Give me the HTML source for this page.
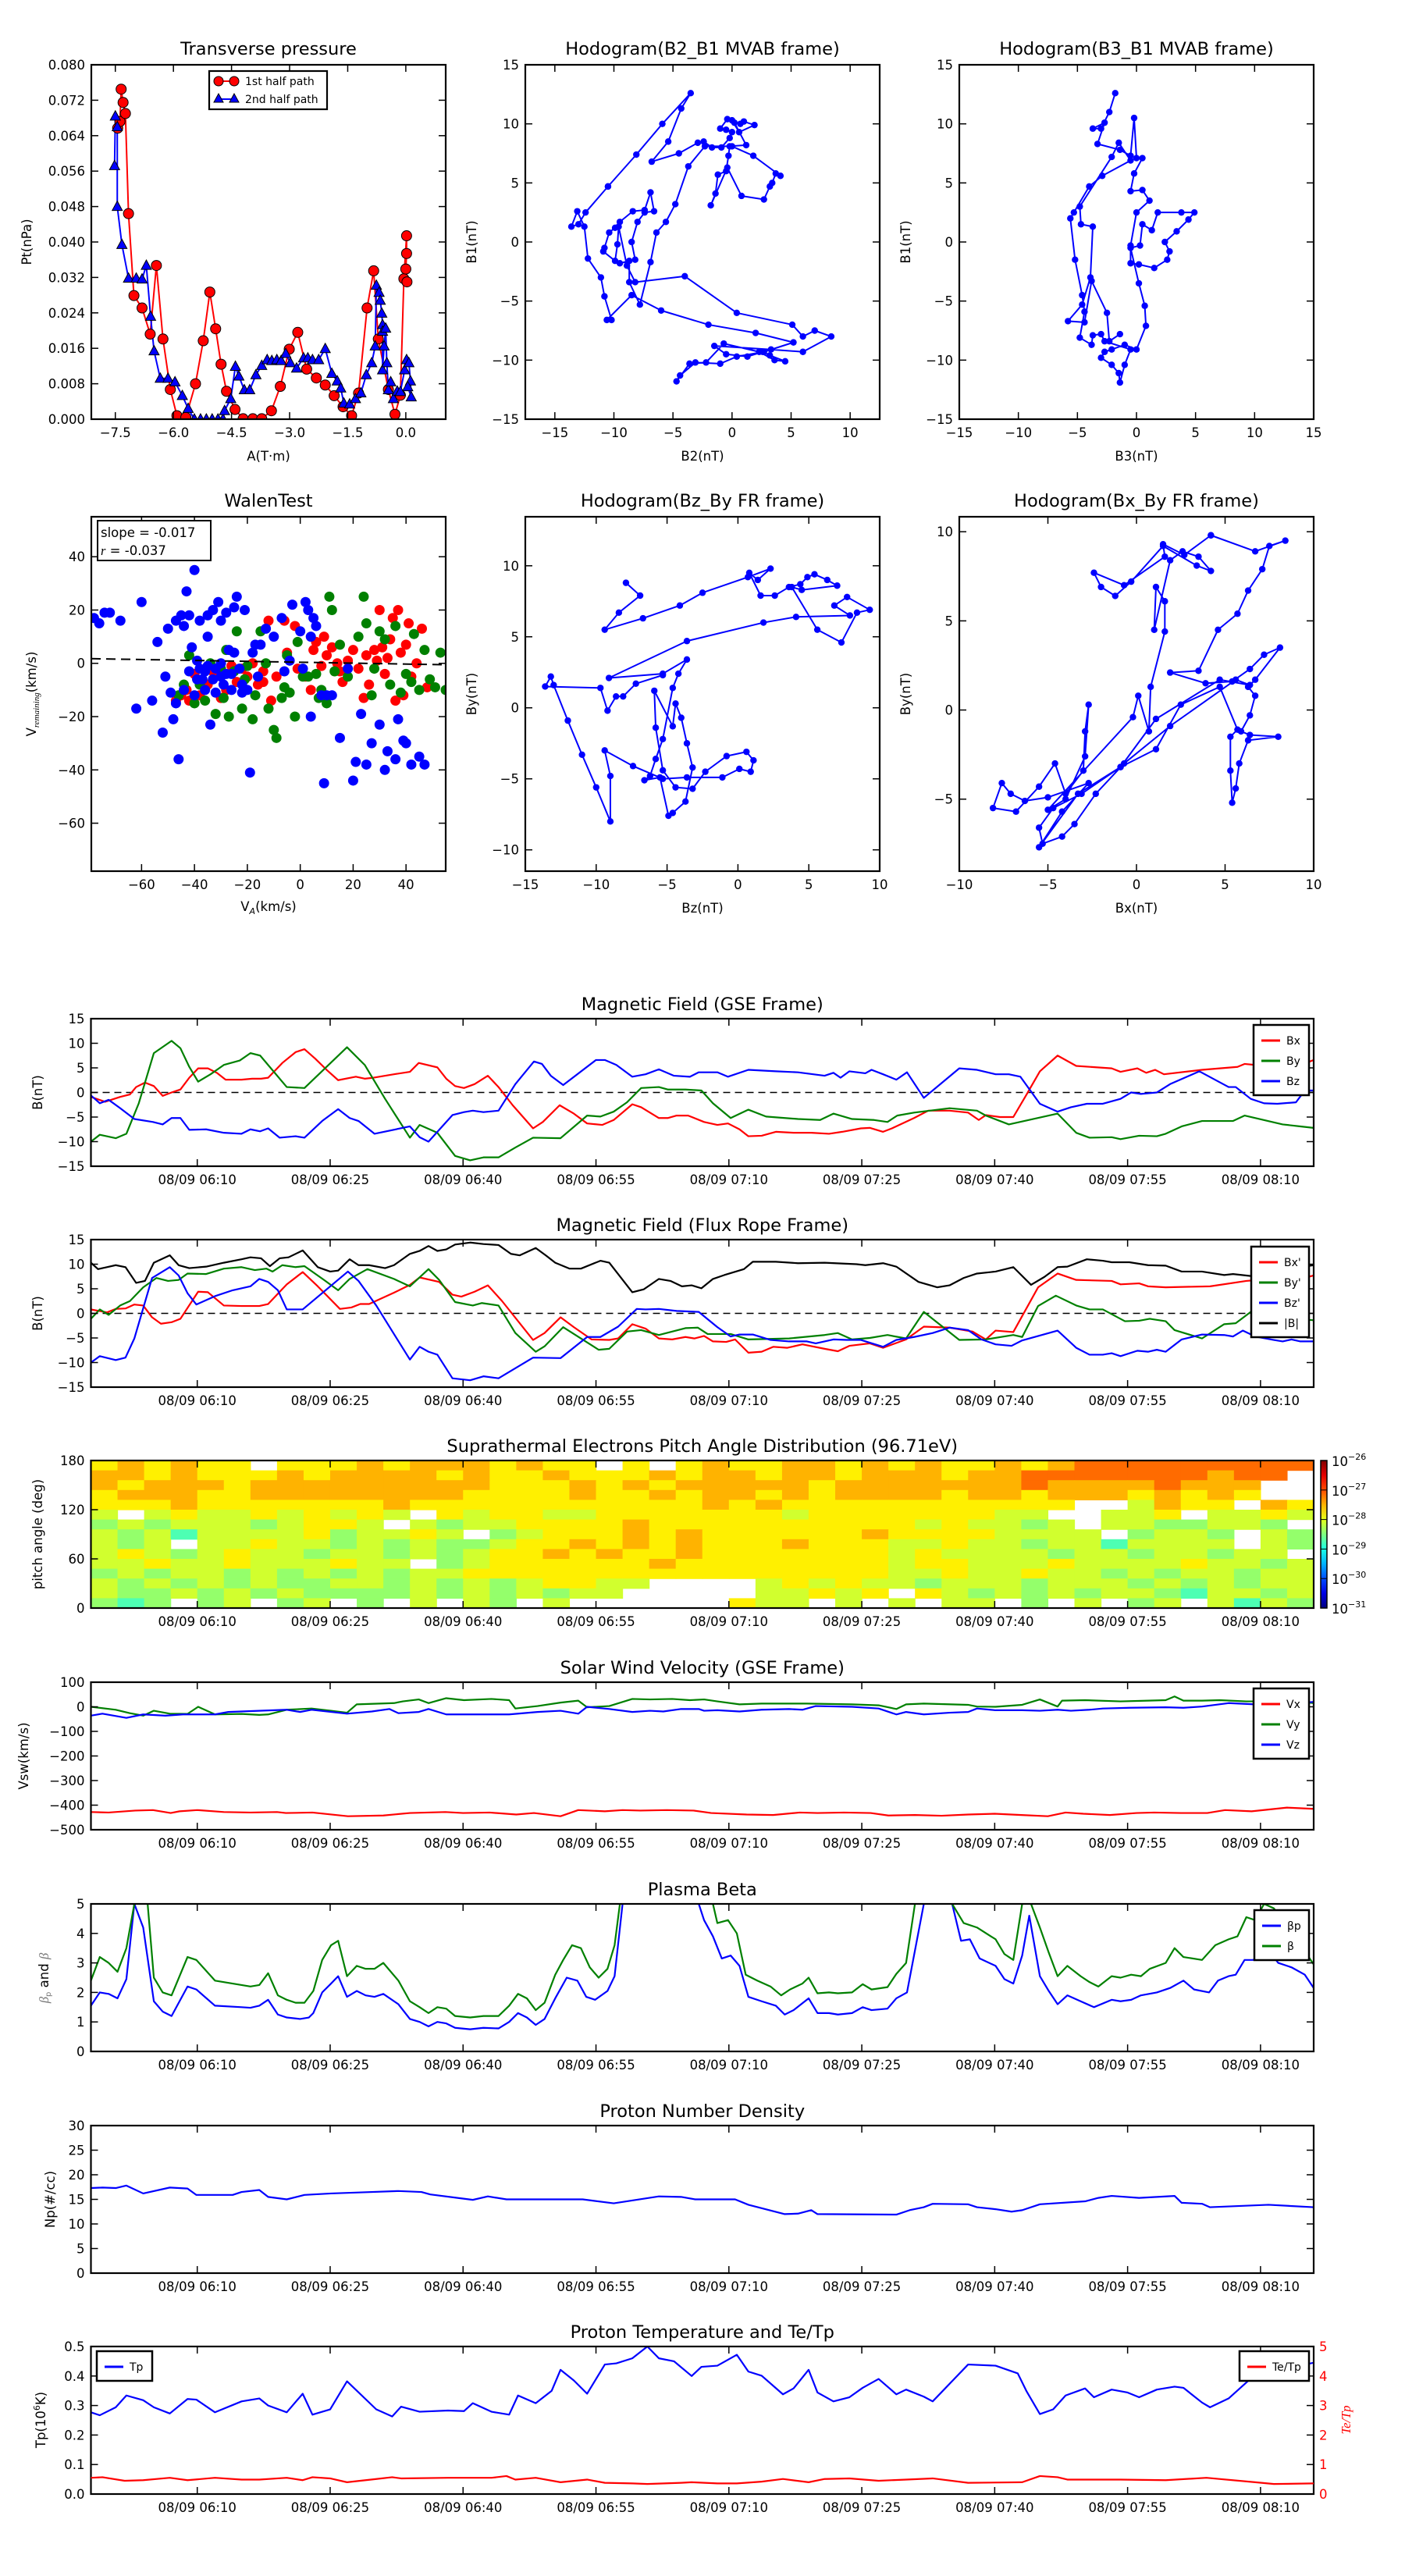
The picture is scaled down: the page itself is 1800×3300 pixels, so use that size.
<!DOCTYPE html>
<html><head><meta charset="utf-8"><title>Flux rope analysis</title>
<style>
html,body{margin:0;padding:0;background:#fff;}
svg{display:block;font-family:"DejaVu Sans","Liberation Sans",sans-serif;}
</style></head>
<body>
<svg id="fig" xmlns="http://www.w3.org/2000/svg" width="1800" height="3300" viewBox="0 0 1800 3300">
<rect x="0" y="0" width="1800" height="3300" fill="#fff"/>
</svg>
<script>
// ---------------- DATA ----------------
const ptRed=[[-7.44,0.0657],[-7.38,0.0672],[-7.35,0.0745],[-7.3,0.0715],[-7.24,0.069],[-7.16,0.0464],[-7.02,0.0279],[-6.81,0.0251],[-6.6,0.0192],[-6.44,0.0347],[-6.27,0.0181],[-6.08,0.0067],[-5.91,0.0008],[-5.68,0.0004],[-5.43,0.008],[-5.23,0.0177],[-5.06,0.0287],[-4.91,0.0204],[-4.77,0.0124],[-4.63,0.0063],[-4.41,0.0022],[-4.2,0.0001],[-3.95,0.0001],[-3.72,0.0001],[-3.47,0.0019],[-3.24,0.0074],[-3.01,0.0158],[-2.79,0.0196],[-2.56,0.0113],[-2.31,0.0093],[-2.08,0.0077],[-1.85,0.0053],[-1.62,0.0028],[-1.4,0.0008],[-1.22,0.0059],[-1.0,0.0251],[-0.83,0.0335],[-0.71,0.0181],[-0.45,0.0067],[-0.28,0.0011],[-0.14,0.0054],[-0.05,0.0317],[0.02,0.0414],[0.02,0.0374],[0.0,0.0339],[0.03,0.031]];
const ptBlue=[[-7.52,0.0572],[-7.5,0.0684],[-7.45,0.066],[-7.45,0.048],[-7.33,0.0394],[-7.16,0.0318],[-6.96,0.0318],[-6.81,0.0316],[-6.7,0.0347],[-6.59,0.0232],[-6.5,0.0154],[-6.34,0.0092],[-6.14,0.0092],[-5.96,0.0084],[-5.77,0.0053],[-5.62,0.0024],[-5.46,0],[-5.3,0],[-5.15,0],[-5.0,0],[-4.85,0],[-4.72,0],[-4.68,0.0019],[-4.52,0.0046],[-4.4,0.0119],[-4.31,0.0097],[-4.17,0.0066],[-4.03,0.0066],[-3.87,0.01],[-3.72,0.0121],[-3.58,0.0134],[-3.46,0.0132],[-3.33,0.0134],[-3.22,0.0132],[-3.1,0.0148],[-2.98,0.0127],[-2.82,0.0115],[-2.64,0.0138],[-2.53,0.0138],[-2.41,0.0134],[-2.25,0.0134],[-2.08,0.0159],[-1.91,0.0103],[-1.77,0.0086],[-1.68,0.007],[-1.6,0.0036],[-1.45,0.0034],[-1.3,0.0046],[-1.16,0.0059],[-1.02,0.01],[-0.88,0.0127],[-0.79,0.0165],[-0.76,0.0302],[-0.69,0.0286],[-0.66,0.0268],[-0.62,0.0239],[-0.6,0.0213],[-0.6,0.0198],[-0.6,0.0111],[-0.56,0.0165],[-0.52,0.0205],[-0.49,0.0127],[-0.45,0.0066],[-0.39,0.0084],[-0.32,0.0046],[-0.22,0.0063],[-0.14,0.0062],[-0.03,0.0111],[0.02,0.0134],[0.08,0.0127],[0.12,0.0086],[0.14,0.005],[0.05,0.0073]];
const hodoB2B1=[[-10.5,4.7],[-8.1,7.4],[-5.9,10],[-3.5,12.6],[-4.3,11.3],[-5.4,8.5],[-6.8,6.8],[-4.5,7.5],[-2.9,8.4],[-2.4,8.5],[-1.7,8.0],[-0.9,8.0],[-0.2,8.8],[0,9.3],[-0.5,9.5],[-1.0,9.6],[-0.4,10.4],[0,10.3],[0.6,9.3],[1.9,9.9],[1.0,10.2],[0.7,10],[0.2,10.1],[1.2,8.2],[-0.2,8.1],[-0.3,7.3],[-0.5,6.0],[-1.2,5.7],[-1.4,4.1],[-1.8,3.1],[-0.4,6.3],[0.8,3.9],[2.7,3.6],[3.2,4.7],[3.4,5],[3.7,5.8],[4.1,5.6],[1.8,7.3],[0,8.1],[-2.3,8.1],[-3.7,6.4],[-4.8,3.2],[-5.6,1.7],[-6.4,0.8],[-6.9,-1.7],[-7.8,-5.3],[-8.7,-3.4],[-8.7,-1.6],[-9.5,-1.8],[-8.2,-1.5],[-8.5,0],[-8.0,1.7],[-7.4,2.5],[-6.6,2.6],[-6.9,4.2],[-7.4,2.7],[-8.4,2.6],[-9.5,1.7],[-9.9,1.2],[-10.4,0.8],[-10.8,-0.5],[-10.9,-0.8],[-9.9,-1.6],[-9.7,-0.2],[-9.6,1.3],[-8.9,-2.0],[-8.2,-3.4],[-4.0,-2.9],[0.4,-6.0],[5.1,-7.0],[6,-8.0],[7,-7.5],[8.4,-8.0],[6,-9.3],[3.3,-9.1],[-1.5,-8.8],[-0.5,-9.5],[1.3,-9.7],[2.6,-9.3],[3.2,-9.6],[4.5,-10.1],[3.6,-10],[2.3,-9.3],[-0.7,-8.6],[-2.2,-10.2],[-3.6,-10.3],[-4.7,-11.8],[-4.4,-11.3],[-3.1,-10.2],[-1.0,-10.3],[0.4,-9.7],[2.7,-9.3],[5.2,-8.5],[2.0,-7.7],[-2.0,-7.0],[-6.0,-5.8],[-8.5,-4.5],[-10.6,-6.6],[-10.2,-6.6],[-10.8,-4.6],[-11.1,-3.0],[-12.2,-1.4],[-12.5,1.3],[-13.1,2.6],[-13.6,1.3],[-13.0,1.5],[-12.4,2.5],[-10.5,4.7]];
const hodoB3B1=[[-1.8,12.6],[-2.3,11],[-3.0,9.6],[-3.7,9.6],[-2.7,10.1],[-3.3,8.3],[-1.4,7.8],[-0.5,7.3],[-0.2,10.5],[0,7.1],[0.5,7.1],[-0.2,5.8],[-0.5,4.3],[0.5,4.4],[1.1,3.5],[0,2.5],[-0.5,-0.3],[-0.5,-1.8],[0.2,-1.9],[1.5,-2.2],[2.6,-1.5],[2.8,-0.8],[2.4,0],[3.4,0.9],[4.4,1.9],[4.9,2.5],[3.8,2.5],[1.8,2.5],[1.3,1.0],[0.5,1.5],[0.3,-0.3],[-0.5,-0.5],[0.2,-3.5],[0.7,-5.4],[0.8,-7.1],[0,-9.1],[-1,-8.7],[-2.1,-9.1],[-2.7,-9.3],[-3.0,-9.8],[-2.1,-10.4],[-1.5,-11.1],[-1.4,-11.9],[-1.0,-10.4],[-0.5,-9.1],[-2.7,-8.4],[-3.0,-7.8],[-3.7,-7.9],[-3.8,-8.7],[-4.8,-8.1],[-4.4,-5.9],[-4.6,-4.5],[-5.2,-1.5],[-5.6,2.0],[-5.3,2.5],[-4.0,4.7],[-2.9,5.6],[-0.5,6.9],[-1.5,8.4],[-2.1,7.2],[-4.8,3.0],[-4.7,1.5],[-3.7,1.3],[-3.9,-3.0],[-4.6,-5.3],[-5.8,-6.7],[-4.4,-6.8],[-3.8,-3.3],[-2.5,-6.0],[-2.3,-8.4],[-1.4,-7.8]];
const hodoBzBy=[[-7.9,8.8],[-6.9,7.9],[-8.4,6.7],[-9.4,5.5],[-6.7,6.3],[-4.1,7.2],[-2.5,8.1],[0.7,9.2],[2.3,9.8],[1.4,9.0],[0.8,9.5],[1.6,7.9],[2.6,7.9],[3.6,8.5],[4.4,8.7],[4.9,9.2],[5.4,9.4],[6.3,9.0],[7.0,8.6],[4.5,8.3],[3.8,8.5],[5.6,5.5],[7.3,4.6],[8.4,6.7],[9.3,6.9],[7.7,7.8],[6.8,7.2],[7.9,6.5],[4.1,6.4],[1.8,6.0],[-3.6,4.7],[-9.1,2.1],[-5.3,2.4],[-3.6,3.4],[-4.2,2.4],[-4.6,1.4],[-5.3,-2.2],[-5.8,-3.6],[-6.2,-4.8],[-6.6,-5.1],[-5.5,-4.9],[-4.9,-7.6],[-4.6,-7.4],[-3.7,-6.6],[-3.2,-4.2],[-3.6,-2.5],[-4.0,-0.7],[-4.4,0.3],[-4.6,-1.3],[-5.9,1.2],[-5.8,-1.4],[-5.3,-4.4],[-4.4,-5.6],[-3.2,-5.7],[-2.3,-4.5],[-0.8,-3.4],[0.6,-3.1],[1.1,-3.7],[0.9,-4.5],[0.1,-4.3],[-1.1,-4.9],[-3.6,-4.9],[-5.3,-5.0],[-7.4,-4.1],[-9.4,-3.0],[-9.0,-4.8],[-9.0,-8.0],[-10.0,-5.6],[-11.0,-3.3],[-12.0,-0.9],[-13.0,1.6],[-13.2,2.2],[-13.6,1.5],[-9.7,1.4],[-9.2,-0.2],[-8.6,0.8],[-8.1,0.8],[-7.2,1.7],[-5.3,2.3]];
const hodoBxBy=[[4.2,9.8],[6.7,8.9],[8.4,9.5],[7.5,9.2],[7.1,7.9],[6.3,6.7],[5.7,5.4],[4.6,4.5],[3.5,2.2],[1.9,2.1],[3.9,1.5],[5.4,1.6],[6.4,2.3],[7.2,3.1],[8.1,3.5],[6.7,1.7],[6.3,1.3],[6.7,0.8],[6.4,-0.3],[5.9,-1.2],[6.4,-1.4],[8.0,-1.5],[6.3,-1.7],[5.8,-3.0],[5.6,-4.4],[5.4,-5.2],[5.3,-3.4],[5.3,-1.5],[5.7,-1.1],[4.7,1.3],[2.5,0.3],[1.1,-2.2],[-0.9,-3.2],[-3.1,-4.7],[-4.7,-5.5],[-5.5,-6.6],[-5.3,-7.5],[-4.2,-7.1],[-3.5,-6.4],[-2.3,-4.7],[-0.7,-3.0],[1.9,-0.9],[5.6,1.7],[6.4,1.4],[4.7,1.7],[1.1,-0.5],[-0.9,-3.2],[-3.3,-4.7],[-5.5,-7.7],[-4.2,-5.7],[-2.7,-4.1],[-5.0,-4.9],[-6.3,-5.1],[-7.1,-4.7],[-7.6,-4.1],[-8.1,-5.5],[-6.8,-5.7],[-5.5,-4.3],[-4.6,-3.0],[-4.0,-4.7],[-3.0,-3.4],[-2.9,-1.2],[-2.7,0.3],[-2.9,-2.6],[-4.0,-5.0],[-5.0,-5.6],[-0.2,-0.4],[0.1,0.8],[0.7,-1.2],[0.8,1.3],[1.6,4.4],[1.6,6.1],[1.1,6.9],[1.0,4.5],[1.9,8.4],[2.6,8.9],[3.5,8.6],[4.2,7.8],[3.4,8.1],[1.5,9.2],[-0.3,7.2],[-1.2,6.4],[-2.0,6.9],[-2.4,7.7],[-0.7,7.0],[1.6,8.6],[1.5,9.3],[2.7,8.7],[4.2,9.8]];
const walenBlue=[[-78,17],[-76,15],[-74,19],[-72,19],[-68,16],[-62,-17],[-60,23],[-56,-14],[-54,8],[-52,-26],[-51,-5],[-50,13],[-49,-11],[-48,-21],[-47,16],[-46,-36],[-45,18],[-44,14],[-43,27],[-42,18],[-41,6],[-40,35],[-40,-12],[-39,1],[-38,16],[-37,-6],[-36,-3],[-35,18],[-35,10],[-34,-23],[-33,20],[-32,-2],[-31,23],[-30,16],[-29,-8],[-28,19],[-27,5],[-26,-4],[-25,21],[-24,25],[-23,-2],[-22,-8],[-21,20],[-20,-10],[-19,-41],[-18,4],[-16,-5],[-15,7],[-13,13],[-38,-2],[-42,-3],[-35,-1],[-33,-6],[-30,0],[-28,-4],[-25,4],[-4,1],[-3,22],[1,-2],[2,23],[3,20],[4,-20],[5,17],[8,-12],[9,-45],[12,-12],[15,-28],[18,-2],[20,-44],[21,-37],[23,-19],[25,-38],[27,-30],[30,-23],[32,-40],[33,-33],[36,-36],[37,-21],[39,-29],[40,-30],[42,-38],[45,-35],[47,-38],[-7,17],[-47,-15],[-44,-10],[-36,-10],[-32,-11],[-30,-5],[-39,-6],[-26,-10],[-22,-11],[-17,7],[-10,10],[-6,-3],[0,12],[4,10],[6,14],[10,-12]];
const walenRed=[[-47,-14],[-45,-12],[-43,-10],[-42,-14],[-40,-4],[-38,-12],[-35,-8],[-33,-3],[-30,-13],[-28,-10],[-26,-1],[-24,-7],[-20,-5],[-18,0],[-16,-8],[-14,-3],[-12,16],[-9,-5],[-6,16],[-5,4],[-2,14],[-1,-2],[2,-5],[4,-10],[5,5],[6,8],[8,-1],[9,10],[10,3],[12,6],[14,0],[15,-3],[16,-7],[18,1],[20,5],[22,-2],[24,-13],[25,3],[26,-8],[28,5],[29,1],[30,20],[31,6],[32,-4],[33,2],[34,9],[35,17],[36,-14],[37,20],[38,4],[39,-12],[40,7],[41,15],[42,-5],[44,0],[46,13],[48,-9],[-11,-14],[-14,-7],[-22,-2]];
const walenGreen=[[-46,-12],[-44,-8],[-42,3],[-40,-15],[-38,-8],[-36,-14],[-34,0],[-32,-19],[-30,-2],[-29,-13],[-28,5],[-27,-20],[-25,-3],[-24,12],[-22,-17],[-21,-6],[-20,-1],[-18,-21],[-17,-12],[-15,12],[-13,0],[-12,-17],[-10,-25],[-9,-28],[-7,-13],[-5,3],[-4,-11],[-2,-20],[-1,8],[1,-5],[3,-5],[6,-4],[7,-13],[8,-10],[10,-15],[11,25],[12,20],[13,-3],[15,7],[18,-5],[22,10],[24,25],[25,15],[27,-12],[28,-2],[30,12],[32,9],[34,-8],[36,14],[38,-11],[40,-4],[42,-7],[43,11],[45,-10],[47,5],[49,-6],[51,-9],[53,4],[55,-10],[-6,-9]];
const walenSlope=-0.017, walenIntercept=0.4;

// time series: [minutes after 05:58, value]
const gseBx=[[0,-0.9],[1.6,-1.9],[3.3,-0.9],[4.4,-0.4],[5.1,1.1],[6.1,2],[7.1,1.3],[8.1,-0.7],[9.1,0],[10.1,0.6],[11.1,3],[12.1,4.9],[13.2,4.9],[14.2,4],[15.2,2.6],[17,2.6],[18.2,2.8],[19.2,2.8],[20,3],[21.6,6],[23.1,8.2],[24.1,8.8],[25.3,6.9],[26.6,4.6],[27.9,2.5],[29.9,3.2],[30.9,2.8],[31.9,3],[34.2,3.7],[36,4.2],[37,6],[39.1,5.1],[40.1,2.8],[41.1,1.3],[42.1,0.9],[43.3,1.7],[44.8,3.4],[46,1.1],[47.6,-2.6],[49.9,-7.3],[51,-6],[52.9,-2.6],[54.5,-4.3],[56,-6.3],[57.7,-6.6],[59,-5.6],[61.1,-2.4],[62.1,-3],[64.1,-5.2],[65.1,-5.2],[66.1,-4.7],[67.4,-4.7],[69.2,-6],[70.7,-6.6],[71.9,-6.3],[73.2,-7.5],[74.2,-8.9],[75.7,-8.8],[77.3,-8],[79.3,-8.2],[81.3,-8.2],[83.3,-8.4],[84.8,-8],[86.9,-7.3],[87.9,-7.2],[89.4,-8],[90.4,-7.3],[92.9,-5.2],[94.5,-3.7],[96.9,-3.7],[99,-4.1],[100.2,-5.6],[101,-4.6],[102.6,-5],[104.1,-5],[105.6,-0.4],[107.1,4.3],[109.1,7.5],[111.2,5.4],[115.2,4.9],[116.2,4.2],[118.1,4.9],[119.1,4],[120.1,4.6],[121.1,3.7],[125.4,4.6],[129.4,5.2],[130.2,5.8],[131.4,5.6],[134.5,5.6],[136,5.2],[138,6.6]];
const gseBy=[[0,-10],[1,-8.6],[2.8,-9.3],[4,-8.4],[5.4,-2.2],[7.1,8],[9.1,10.5],[10.1,9],[11.1,5.2],[12.1,2.2],[13.5,3.7],[15,5.6],[16.8,6.5],[18,8],[19.1,7.5],[22.1,1.1],[24.1,0.9],[28.9,9.2],[30.9,5.6],[33.2,-1.3],[36,-9.2],[37.1,-6.6],[39.1,-8.2],[41.1,-12.9],[42.8,-13.8],[44.3,-13.2],[46,-13.2],[47.9,-11.2],[49.9,-9.2],[53,-9.3],[56,-4.7],[57.5,-4.9],[59,-3.9],[60.5,-2],[62.1,0.9],[64.1,1.1],[65.1,0.6],[67.1,0.6],[68.9,0.4],[70.2,-2.2],[72.2,-5.2],[74.2,-3.5],[76.2,-4.9],[79.8,-5.4],[82.3,-5.6],[83.8,-4.3],[85.9,-5.4],[88.4,-5.6],[89.9,-6],[91,-4.7],[92.9,-4.1],[96.9,-3.2],[100,-3.7],[101,-4.7],[103.6,-6.5],[109.1,-4.3],[111.2,-8.2],[112.7,-9.2],[115.2,-9.1],[116.2,-9.5],[118.3,-8.8],[120.3,-8.9],[121.3,-8.4],[123.1,-6.9],[125.4,-5.8],[128.9,-5.8],[130.2,-4.7],[134.5,-6.5],[136.5,-6.9],[138,-7.2]];
const gseBz=[[0,-0.6],[1,-2.2],[2,-1.5],[3.3,-3.2],[4.9,-5.4],[7,-6],[8.1,-6.5],[9.1,-5.2],[10.1,-5.2],[11.1,-7.6],[13,-7.5],[15,-8.2],[17,-8.4],[18,-7.5],[19.1,-7.9],[20,-7.3],[21.3,-9.2],[23.1,-8.9],[24.1,-9.2],[26.1,-5.8],[27.9,-3.4],[29.2,-5.2],[30.2,-5.8],[32,-8.4],[36,-6.9],[37.1,-9.1],[38.1,-10],[40.8,-4.6],[42.1,-4],[43.1,-3.7],[44.3,-4],[46,-3.7],[47.9,1.7],[50,6.3],[50.9,5.8],[51.9,3.4],[53.3,1.5],[57,6.6],[58,6.6],[59.3,5.6],[61.1,3.2],[62.6,3.7],[64.1,4.7],[65.8,3.4],[67.6,3.2],[68.6,4.1],[70.7,4.1],[71.9,3.2],[74.2,4.6],[77.3,4.3],[79.8,4.1],[82.8,3.4],[83.8,4],[84.6,3],[85.6,4.3],[87.4,3.9],[88.1,4.6],[89.4,3.7],[90.9,2.6],[92.1,4.1],[94,-1.1],[98,4.9],[100,4.6],[102.1,3.7],[103.6,3.7],[104.9,3.2],[107.1,-2.3],[109.1,-3.9],[110.6,-3],[112.4,-2.3],[114.2,-2.3],[116.2,-1.3],[117.4,0],[118.5,-0.3],[120.3,0],[121.8,1.7],[125.1,4.3],[128.4,1.1],[129.2,1.1],[130.9,-1.3],[132.4,-2.2],[133.9,-2.3],[136,-2],[137,0.4],[138,0.4]];
const frBx=[[0,0.8],[1.8,0.2],[2.8,0.9],[3.9,1],[4.9,1.8],[5.9,1.6],[6.9,-0.8],[7.9,-2.1],[9.1,-1.8],[10.1,-1.1],[12.1,4.4],[13.2,4.3],[15,1.6],[17,1.5],[19,1.5],[20,1.9],[22.1,5.9],[23.9,8.4],[25.6,5.5],[28.1,0.9],[29.4,1.2],[30.4,1.9],[31.4,1.9],[34.2,4.2],[36,5.8],[37.1,7.3],[39.3,6.4],[40.8,3.8],[41.8,3.4],[43.3,4.4],[44.8,5.7],[46.4,2.5],[49.9,-5.4],[51.2,-4],[53,-0.8],[54.5,-2.8],[56.5,-5.3],[58.5,-5.4],[59.5,-5.1],[61.1,-2.2],[62.6,-3.1],[64.1,-5.1],[65.6,-5.3],[67.1,-4.8],[68.1,-5.1],[69.2,-4.6],[70.2,-5.7],[71.7,-5.8],[72.7,-5.3],[74.2,-8],[75.7,-7.8],[77,-6.8],[78.6,-7],[80.3,-6.3],[82.8,-7.2],[84.3,-7.7],[85.6,-6.6],[87.9,-6.1],[89.4,-7],[92,-5.3],[94,-2.7],[96.9,-2.9],[99.5,-3.7],[101,-5.3],[102.1,-3.5],[104.1,-3.8],[106.9,5.3],[109.1,8.1],[111.2,6.8],[115.2,6.6],[116.2,5.9],[118.3,6.1],[119.3,5.5],[121.3,5.3],[126.3,5.5],[130.4,6.6],[134.5,7.2],[136,6.8],[138,7.7]];
const frBy=[[0,-1.1],[1,0.8],[2,-0.3],[3.3,1.6],[4.4,2.5],[5.9,5.3],[7.4,7.2],[8.7,6.6],[9.9,6.8],[10.9,8.1],[13,8],[15,9.1],[17,9.4],[18.5,8.8],[19.8,9.1],[20.5,8.5],[21.6,9.8],[23.1,9.4],[24.1,9.6],[26.3,6.8],[27.9,4.7],[29.2,7],[31.2,9],[34.2,7],[36,5.5],[38.1,9],[39.3,6.8],[41.1,2.3],[43.1,1.6],[44.1,2.1],[46,1.6],[47.9,-4],[50.2,-7.8],[51.2,-6.7],[53.3,-2.8],[57.3,-7.4],[58.5,-7.2],[60.5,-3.7],[62.1,-3.4],[64.1,-4.4],[67.1,-3],[68.5,-2.9],[69.6,-4.2],[72.2,-4.2],[74.2,-5.3],[78.8,-5.1],[82.8,-4.4],[84.3,-4],[85.9,-5.3],[87.9,-5],[89.9,-4.4],[92,-5.1],[94,0.3],[98,-5.4],[101,-5.3],[104.1,-4.4],[105.1,-4.8],[106.9,1.5],[108.9,3.6],[111.2,1.6],[112.7,0.8],[114.2,0.8],[116.7,-1.6],[118.3,-1.5],[119.5,-1.1],[121.3,-1.6],[122.3,-3.4],[125.4,-5.1],[127.9,-2.2],[129.2,-2],[130.9,0.3],[133.5,0.8],[136,-1.1],[138,-1.4]];
const frBz=[[0,-10],[1,-8.7],[2.8,-9.5],[3.9,-9],[4.9,-5.1],[6.9,7.2],[8.9,9.4],[9.9,7.7],[10.9,4.1],[11.9,1.8],[14,3.5],[16,4.7],[18,5.5],[19,7],[20,6.4],[21.1,4.7],[22.1,0.8],[23.9,0.8],[29,8.5],[30.2,6.6],[32.2,1.6],[36,-9.4],[37.1,-6.8],[38.1,-7.8],[39.1,-8.4],[40.8,-13.2],[42.8,-13.6],[44.3,-12.8],[46,-13.2],[49.9,-9],[53,-9.1],[56,-4.8],[57.5,-4.8],[59.5,-2.7],[61.6,0.9],[62.6,0.8],[64.1,0.9],[66.1,0.5],[68.6,0.3],[70.7,-2.8],[72.2,-4.7],[73.2,-4.3],[74.7,-4.3],[76.7,-5.4],[78.8,-5.7],[80.8,-5.7],[81.8,-6.1],[83.8,-5.3],[85.3,-5.4],[86.9,-5.4],[89.4,-6.8],[90.9,-5.4],[92.9,-4.8],[95,-4],[96.9,-2.9],[99,-3.4],[100.5,-5.3],[102.1,-6.3],[103.9,-6.6],[105.1,-5.5],[109.1,-3.5],[111.2,-7],[112.7,-8.4],[114.2,-8.4],[115.2,-8.1],[116.2,-8.7],[118.1,-7.6],[119.3,-7.8],[120.3,-7.4],[121.3,-7.8],[123.1,-5.3],[125.4,-4.3],[127.9,-4.4],[128.9,-4.7],[130,-3.5],[131.4,-4.7],[133.5,-5.4],[134.5,-5.7],[135.5,-5.3],[136.5,-5.7],[138,-5.7]];
const frBt=[[0,10.3],[0.8,9],[1.8,9.4],[2.8,9.8],[3.9,9.4],[5.1,6.2],[6.1,6.6],[7.1,10.3],[8.9,11.8],[9.9,9.8],[11.1,9.2],[13,9.5],[15,10.3],[17,11],[18,11.4],[19.2,11.2],[20.2,9.6],[21.3,11.2],[22.3,11.4],[23.9,12.8],[25.6,9.4],[27,8.5],[27.9,8.7],[29.2,11],[30.2,9.8],[31.4,9.8],[33.2,9.2],[34.2,9.8],[36,12.1],[37.1,12.7],[38.1,13.7],[39.1,12.7],[40.1,13],[41.1,14],[42.8,14.4],[44.3,14.1],[46,13.9],[47.4,12.1],[48.4,11.8],[50.2,13.3],[51.4,11.7],[52.4,10.3],[54,9.1],[55.3,9.1],[57.5,10.7],[58.5,10.3],[61.1,4.3],[62.4,4.9],[64.1,7],[65.4,6.6],[66.7,5.5],[67.8,5.7],[68.9,5.1],[70.2,7],[71.5,7.8],[73.7,9],[74.7,10.5],[77.3,10.5],[79.8,10.2],[82.8,10.3],[86.4,10],[87.4,9.8],[89.4,10.2],[90.9,9.5],[93.4,6.4],[95.5,5.3],[96.9,5.7],[98.5,7.2],[100,8.1],[102.1,8.5],[104.1,9.4],[106.1,5.8],[107.6,7.4],[109.1,9.4],[110.2,9.5],[112.4,11],[114.2,10.7],[115.2,10.4],[117.2,10.4],[119.3,9.8],[121.3,9.7],[123.1,8.5],[125.4,8.5],[127.9,7.8],[128.9,8],[130.9,7.6],[132.4,8.3],[138,9.8]];
const swVx=[[0,-428],[2,-430],[5,-422],[7,-420],[9,-432],[10,-425],[12,-420],[15,-428],[18,-430],[21,-428],[22,-432],[25,-430],[29,-445],[33,-442],[36,-432],[40,-428],[42,-432],[45,-430],[48,-438],[50,-432],[53,-445],[55,-420],[58,-425],[60,-420],[62,-422],[65,-420],[68,-422],[70,-432],[74,-438],[77,-440],[80,-430],[82,-432],[85,-430],[88,-432],[90,-442],[93,-440],[96,-443],[99,-438],[102,-435],[105,-440],[108,-445],[110,-430],[112,-435],[115,-440],[118,-432],[120,-430],[123,-432],[126,-432],[128,-420],[131,-425],[135,-410],[138,-415]];
const swVy=[[0,0],[2.8,-12],[4.4,-26],[5.9,-36],[7.1,-16],[8.9,-28],[10.9,-29],[12.1,0],[14,-31],[17,-29],[19,-33],[20,-31],[22.1,-12],[24.9,-7],[27.1,-16],[28.9,-24],[30,10],[34.2,15],[35.2,22],[37,30],[38.1,15],[40.1,35],[42.1,27],[45.2,32],[47.2,27],[47.9,-7],[50.4,3],[53,17],[55,25],[56,-2],[58.5,3],[61.1,32],[63.1,30],[65.6,32],[67.6,27],[69.2,30],[70.7,22],[73.2,10],[75.7,13],[80.8,13],[85.9,10],[88.9,6],[90.9,-9],[92,10],[94,13],[99,8],[100,1],[102.1,0],[105.1,8],[107.1,30],[109.1,1],[109.6,25],[112.2,27],[116.2,22],[119.3,25],[121.3,27],[122.3,42],[123.3,25],[125.4,25],[127.4,27],[130.4,22],[132.4,22],[133.9,27],[136,22],[138,15]];
const swVz=[[0,-36],[1.3,-28],[4,-45],[5.9,-31],[8.4,-36],[10.4,-31],[14,-31],[15.5,-21],[22.1,-12],[23.6,-21],[24.9,-12],[28.9,-28],[31.7,-19],[33.7,-9],[34.7,-26],[37,-21],[38.1,-9],[40.1,-31],[47.2,-31],[50.4,-21],[53,-16],[55,-28],[56,0],[58.5,-9],[61.1,-21],[63.1,-16],[64.6,-19],[66.6,-9],[68.6,-9],[69.2,-16],[70.7,-14],[73.2,-19],[75.7,-12],[78.8,-9],[80.3,-12],[81.8,3],[85.9,0],[88.9,-7],[90.9,-31],[92,-21],[94,-31],[96.9,-24],[99,-21],[100,-7],[102.1,-14],[105.1,-14],[107.1,-16],[109.1,-12],[110.6,-16],[112.7,-12],[114.2,-7],[117.2,-4],[121.3,-2],[123.3,-4],[125.4,1],[128.4,15],[131.4,10],[133.5,6],[138,20]];
const betaTot=[[0,2.4],[1,3.2],[2,3.0],[3,2.7],[4,3.5],[4.9,5],[5.5,9],[6.4,5],[7.1,2.5],[8.1,2],[9.1,1.9],[10.9,3.2],[11.9,3.1],[14,2.4],[16,2.3],[17,2.25],[18,2.2],[19,2.25],[20,2.65],[21.1,1.9],[22.1,1.75],[23.1,1.65],[24.1,1.65],[25.1,2.05],[26.1,3.1],[27.1,3.6],[27.9,3.75],[28.9,2.55],[30,2.9],[31,2.8],[32,2.8],[33,3.0],[34.7,2.4],[36,1.7],[37.1,1.5],[38.1,1.3],[39.1,1.5],[40.1,1.45],[41.1,1.2],[42.8,1.15],[44.3,1.2],[46,1.2],[47.2,1.55],[48.2,1.95],[49.2,1.8],[50.2,1.4],[51.2,1.65],[52.4,2.6],[53.3,3.1],[54.3,3.6],[55.3,3.5],[56.3,2.85],[57.3,2.5],[58.3,2.8],[59.1,3.6],[59.7,5],[62,12],[68,12],[70.2,5],[70.7,4.35],[71.9,4.45],[72.9,4.0],[73.9,2.6],[75.2,2.4],[76.7,2.2],[77.9,1.9],[78.9,2.1],[80.3,2.3],[81,2.5],[82,1.97],[83.3,2.0],[84.3,1.97],[85.9,2.0],[87.1,2.28],[88.1,2.1],[89.9,2.18],[90.9,2.63],[92,3.0],[93,5],[94,10],[96,10],[97.2,5],[98.5,4.35],[100,4.2],[102.1,3.8],[103.1,3.3],[104.1,3.1],[105.1,5],[105.6,8],[106.1,5],[107.1,4.2],[108.1,3.35],[109.1,2.55],[110.2,2.9],[111.7,2.55],[112.7,2.35],[113.7,2.2],[115.2,2.55],[116.2,2.5],[117.4,2.6],[118.5,2.55],[119.5,2.8],[121.3,3.0],[122.3,3.5],[123.3,3.2],[125.4,3.1],[126.9,3.6],[128.4,3.8],[129.4,3.9],[130.4,4.55],[131.4,4.45],[132.4,5.0],[133.5,4.85],[135.5,4.05],[138,2.95]];
const betaP=[[0,1.55],[1,2.0],[2,1.95],[3,1.8],[4,2.45],[4.9,5.0],[5.9,4.2],[7.1,1.7],[8.1,1.35],[9.1,1.2],[10.9,2.2],[11.9,2.1],[14,1.55],[17,1.5],[18,1.48],[19,1.55],[20,1.75],[21.1,1.25],[22.1,1.15],[23.6,1.1],[24.6,1.15],[25.1,1.3],[26.1,2.0],[27.1,2.3],[27.9,2.55],[28.9,1.85],[30,2.05],[31,1.9],[32,1.85],[33,1.95],[34.7,1.6],[36,1.1],[37.1,1.0],[38.1,0.85],[39.1,1.0],[40.1,0.95],[41.1,0.8],[42.8,0.75],[44.3,0.8],[46,0.78],[47.2,1.0],[48.2,1.3],[49.2,1.15],[50.2,0.9],[51.2,1.1],[52.4,1.8],[53.7,2.5],[54.9,2.4],[55.9,1.85],[56.9,1.75],[58.3,2.05],[59.1,2.55],[60,5],[62,12],[67,12],[68.6,5],[69.2,4.45],[70.2,3.9],[71.2,3.15],[72.2,3.25],[73.2,2.9],[74.2,1.85],[75.7,1.7],[77.3,1.55],[78.3,1.25],[79.3,1.4],[81,1.8],[82,1.3],[83.3,1.3],[84.3,1.25],[85.9,1.3],[87.1,1.5],[88.1,1.4],[89.9,1.45],[90.9,1.8],[92.1,2.0],[94,5],[95,10],[96.5,10],[97.2,5],[98.2,3.75],[99.2,3.8],[100.3,3.15],[102.1,2.9],[103.1,2.45],[104.1,2.3],[105.1,3.25],[105.9,4.6],[107.1,2.55],[108.1,2.05],[109.1,1.6],[110.2,1.9],[111.7,1.7],[113.2,1.5],[115.2,1.75],[116.2,1.7],[117.4,1.75],[118.5,1.9],[120.3,2.0],[121.8,2.15],[123.3,2.4],[124.5,2.1],[126.2,2.0],[127.2,2.4],[128.4,2.55],[129.2,2.6],[130.2,3.1],[131.2,3.1],[132.2,3.4],[133,3.4],[134,3.0],[135.5,2.85],[137,2.6],[138,2.15]];
const npDens=[[0,17.3],[1.3,17.4],[2.8,17.3],[4,17.8],[5.9,16.2],[8.9,17.4],[10.9,17.2],[11.9,15.9],[16,15.9],[17,16.5],[19,16.9],[20,15.5],[22.1,15],[24.1,15.9],[27.1,16.2],[30.2,16.4],[34.7,16.7],[37.3,16.5],[38.3,16],[41.8,15.2],[43.1,14.9],[44.8,15.6],[46.9,15],[55.5,15],[59,14.2],[64.1,15.6],[66.6,15.5],[68.2,15],[72.7,15],[74.2,13.9],[78.3,12],[79.8,12.1],[81.3,12.8],[82,12],[90.9,11.9],[92.4,12.8],[94,13.4],[95,14.1],[99,14],[100,13.4],[102.1,13],[103.9,12.5],[105.1,12.8],[107.1,14],[112.2,14.6],[113.7,15.3],[115.2,15.7],[118.3,15.3],[122.3,15.7],[123.1,14.3],[125.4,14.1],[126.3,13.4],[132.9,13.9],[138,13.4]];
const tpTemp=[[0,0.277],[1,0.267],[2.8,0.294],[4,0.334],[5.9,0.318],[7.1,0.294],[8.9,0.273],[10.9,0.322],[11.9,0.32],[14,0.277],[17,0.314],[19,0.324],[20,0.3],[22.1,0.277],[23.9,0.34],[25,0.269],[27,0.287],[28.9,0.382],[32.2,0.287],[34,0.263],[35,0.296],[37.1,0.279],[40.3,0.283],[42.1,0.281],[43.1,0.308],[45.2,0.279],[47.2,0.269],[48.2,0.334],[50.2,0.308],[52,0.35],[53,0.421],[54.5,0.385],[56,0.34],[58,0.439],[59.3,0.443],[61.1,0.46],[62.8,0.5],[64.1,0.46],[65.8,0.45],[67.8,0.4],[68.9,0.431],[70.7,0.435],[72.9,0.472],[74.2,0.415],[75.7,0.401],[78.1,0.338],[79.3,0.358],[81,0.421],[82,0.344],[83.8,0.314],[85.6,0.328],[87.1,0.36],[88.9,0.39],[90.9,0.338],[92,0.354],[94,0.33],[95,0.314],[99,0.439],[102.1,0.435],[104.6,0.409],[105.6,0.348],[107.1,0.271],[108.6,0.287],[110,0.334],[112.2,0.358],[113.2,0.328],[115.2,0.354],[117,0.344],[118.3,0.328],[120.3,0.354],[122.3,0.364],[123.3,0.36],[125.4,0.31],[126.3,0.294],[128.4,0.324],[131.4,0.405],[138,0.445]];
const teTp=[[0,0.55],[1.3,0.57],[3.8,0.45],[5.9,0.47],[8.9,0.55],[10.9,0.47],[14,0.55],[17,0.49],[19,0.49],[22.1,0.55],[23.9,0.47],[25,0.57],[27,0.53],[28.9,0.4],[32.2,0.51],[34,0.57],[35,0.53],[40.3,0.55],[45.2,0.55],[46.9,0.61],[47.9,0.49],[50.2,0.55],[53,0.4],[56,0.49],[58,0.38],[61.1,0.36],[62.8,0.34],[66.6,0.38],[67.8,0.4],[70.7,0.36],[72.9,0.36],[75.7,0.42],[78.1,0.51],[81,0.4],[82.8,0.51],[85.6,0.53],[88.9,0.45],[92,0.49],[95,0.53],[99,0.38],[105.1,0.4],[107.1,0.61],[109.1,0.57],[110.2,0.49],[116.2,0.49],[121.3,0.47],[125.9,0.55],[131.4,0.4],[133.5,0.34],[138,0.36]];
// pitch angle distribution: 46 columns x 3 min, 15 rows x 12 deg (top row = 168-180 deg)
const padRows=[
"yoyoyy.yyyoyoooyoyy.y.yoyyooyoyoyyoyoOOOOOOOOOO",
"ooyoyyyoyooooyoyyoyyyoyooyooyoooyooOOOOOOOoOO",
"oyoooyoooooooooyyyoyoyoooooyoooooooOooooOooo",
"yoooyyooooooooyyyyoyyoyooyoyooooyooyoooyoyoy",
"yyyoyyyyyyyoyyyyyyyyyyyoyoyyyyyyyyyyy..loyy.oyy",
"l.lyllylylyl.ylyyllyyyyyyylyyyyyyyll..lly.llyl",
"glglllglyyl.lgllyyyyoyyyyyyyyyylyllgl.llggllg",
"lglcllllygllyl.glyyyoyoyyyyyyoyyyyllll.gllg.lgl",
"lgl.llyllglglgglyyoyoyoyyyoyyyllyllgllcllll.lg",
"lylglyllgllglglyyoyoyyoyyyyyyylyllllgllgllgll",
"llyllylllyll.glyyyyyyoyyyyyyyylyylllyllllyllgl",
"glgllglglglgllyyyyyyyyyyyyyyyyllyilyllglgllgllg",
"lglglglggllglglglyyll....lylyllglllglllglglgll",
"lgglglglgggglglglgll.....llyly.ylglglgllgcllglg",
"gcg.gl.gl.g.l.lg.l......yll.l.l.ll.g.l.gl.lclg"];
const padCodes={O:-27.15,o:-27.5,y:-27.8,l:-28.1,i:-28.1,g:-28.4,c:-28.75};
const timeTicks=[12,27,42,57,72,87,102,117,132];
const timeLabels=["08/09 06:10","08/09 06:25","08/09 06:40","08/09 06:55","08/09 07:10","08/09 07:25","08/09 07:40","08/09 07:55","08/09 08:10"];

// ---------------- DRAWING HELPERS ----------------
const NS='http://www.w3.org/2000/svg';
const svg=document.getElementById('fig');
function mk(tag,attrs,parent){const e=document.createElementNS(NS,tag);for(const k in attrs)e.setAttribute(k,attrs[k]);(parent||svg).appendChild(e);return e;}
function txt(parent,x,y,s,attrs){const e=mk('text',Object.assign({x:x,y:y,'font-size':16.5,fill:'#000'},attrs||{}),parent);e.textContent=s;return e;}
function fmt(v,d){return (d===undefined?String(v):v.toFixed(d)).replace('-','\u2212');}
let clipN=0;
function axes(name,X,Y,W,H,xd,yd){
  const g=mk('g',{});
  
  
  const id='clip'+(clipN++);
  const cp=mk('clipPath',{id:id},g);mk('rect',{x:X,y:Y,width:W,height:H},cp);
  const plot=mk('g',{'clip-path':'url(#'+id+')'},g);
  
  
  const sx=v=>X+(v-xd[0])/(xd[1]-xd[0])*W;
  const sy=v=>Y+H-(v-yd[0])/(yd[1]-yd[0])*H;
  return {g,plot,sx,sy,X,Y,W,H};
}
function frame(a){const r=mk('rect',{x:a.X,y:a.Y,width:a.W,height:a.H,fill:'none',stroke:'#000','stroke-width':2.2},a.g);
  
  }
function yticks(a,vals,labels,opts){opts=opts||{};
  const g=mk('g',{},a.g);
  
  
  vals.forEach((v,i)=>{const y=a.sy(v);
    mk('line',{x1:a.X,x2:a.X+9,y1:y,y2:y,stroke:'#000','stroke-width':1.5},g);
    mk('line',{x1:a.X+a.W,x2:a.X+a.W-9,y1:y,y2:y,stroke:opts.rightColor||'#000','stroke-width':1.5},g);
    if(!opts.noLabels){const t=txt(g,a.X-8,y+6,labels[i],{'text-anchor':'end'});
    }
  });}
function xticks(a,vals,labels,dy){
  const g=mk('g',{},a.g);
  
  
  vals.forEach((v,i)=>{const x=a.sx(v);
    mk('line',{x1:x,x2:x,y1:a.Y+a.H,y2:a.Y+a.H-9,stroke:'#000','stroke-width':1.5},g);
    mk('line',{x1:x,x2:x,y1:a.Y,y2:a.Y+9,stroke:'#000','stroke-width':1.5},g);
    const t=txt(g,x,a.Y+a.H+(dy||23),labels[i],{'text-anchor':'middle'});
    
  });}
function series(a,pts,color,nm,w){
  const d=pts.map((p,i)=>(i?'L':'M')+a.sx(p[0]).toFixed(2)+' '+a.sy(p[1]).toFixed(2)).join('');
  const p=mk('path',{d:d,fill:'none',stroke:color,'stroke-width':w||2.2,'stroke-linejoin':'round'},a.plot);
  
  
  return p;}
function dots(a,pts,color,r,nm){
  const g=mk('g',{fill:color},a.plot);
  
  
  pts.forEach(p=>{const c=mk('circle',{cx:a.sx(p[0]),cy:a.sy(p[1]),r:r},g);
    
    });
  return g;}
function title(a,s,dy){const t=txt(a.g,a.X+a.W/2,a.Y-(dy||11),s,{'text-anchor':'middle','font-size':22.5});
  
  return t;}
function ylabel(a,s,x){const t=txt(a.g,0,0,s,{'text-anchor':'middle',transform:'translate('+x+','+(a.Y+a.H/2)+') rotate(-90)'});
  
  return t;}
function xlabel(a,s,y){const t=txt(a.g,a.X+a.W/2,y,s,{'text-anchor':'middle'});
  
  return t;}
function legend(a,x,y,w,entries,fs){
  const g=mk('g',{},a.g);
  
  
  const h=entries.length*26+12;
  mk('rect',{x:x,y:y,width:w,height:h,fill:'#fff',stroke:'#000','stroke-width':2.5},g);
  entries.forEach((e,i)=>{const yy=y+20+i*26;
    const ln=mk('line',{x1:x+10,x2:x+34,y1:yy,y2:yy,stroke:e[1],'stroke-width':3},g);
    
    const t=txt(g,x+42,yy+5,e[0],{'font-size':fs||14});
    
  });
  return g;}
function rng(a,b,s){const r=[];for(let v=a;v<=b+1e-9;v+=s)r.push(Math.round(v*1000)/1000);return r;}

// ---------------- TRANSVERSE PRESSURE ----------------
(function(){
  const a=axes('transverse-pressure-chart',117,83,454,454,[-8.12,1.03],[0,0.08]);
  const pr=series(a,ptRed,'#ff0000','first-half-path-line',2);
  const pb=series(a,ptBlue,'#0000ff','second-half-path-line',2);
  ptRed.forEach(p=>{const c=mk('circle',{cx:a.sx(p[0]),cy:a.sy(p[1]),r:6.5,fill:'#ff0000',stroke:'#000','stroke-width':1},a.plot);
    
    });
  ptBlue.forEach(p=>{const x=a.sx(p[0]),y=a.sy(p[1]);const t=mk('polygon',{points:(x)+','+(y-7)+' '+(x-6.5)+','+(y+5)+' '+(x+6.5)+','+(y+5),fill:'#0000ff',stroke:'#000','stroke-width':1},a.plot);
    
    });
  const yv=rng(0,0.08,0.008);
  yticks(a,yv,yv.map(v=>v.toFixed(3)));
  const xv=[-7.5,-6,-4.5,-3,-1.5,0];
  xticks(a,xv,xv.map(v=>fmt(v,1)));
  frame(a);title(a,'Transverse pressure',13);
  ylabel(a,'Pt(nPa)',40);xlabel(a,'A(T\u00b7m)',590);
  const lg=mk('g',{},a.g);
  
  
  mk('rect',{x:268,y:91,width:151,height:49,fill:'#fff',stroke:'#000','stroke-width':2.2},lg);
  mk('line',{x1:280,x2:300,y1:104,y2:104,stroke:'#f00','stroke-width':2},lg);
  mk('circle',{cx:280,cy:104,r:6,fill:'#f00',stroke:'#000'},lg);mk('circle',{cx:300,cy:104,r:6,fill:'#f00',stroke:'#000'},lg);
  mk('line',{x1:280,x2:300,y1:127,y2:127,stroke:'#00f','stroke-width':2},lg);
  mk('polygon',{points:'280,120 274,131 286,131',fill:'#00f',stroke:'#000'},lg);mk('polygon',{points:'300,120 294,131 306,131',fill:'#00f',stroke:'#000'},lg);
  const t1=txt(lg,314,109,'1st half path',{'font-size':14});
  
  const t2=txt(lg,314,132,'2nd half path',{'font-size':14});
  
})();

// ---------------- HODOGRAMS ----------------
function hodo(name,X,Y,xd,yd,pts,xt,yt,ttl,xl,yl){
  const a=axes(name,X,Y,454,454,xd,yd);
  series(a,pts,'#0000ff',name+'-path',2);
  dots(a,pts,'#0000ff',4.2,name+'-samples');
  yticks(a,yt,yt.map(v=>fmt(v)));xticks(a,xt,xt.map(v=>fmt(v)),(Y<300?23:23));
  frame(a);title(a,ttl,13);
  ylabel(a,yl,X-63);xlabel(a,xl,Y+507);
  return a;}
hodo('hodogram-b2-b1',673,83,[-17.5,12.5],[-15,15],hodoB2B1,[-15,-10,-5,0,5,10],[-15,-10,-5,0,5,10,15],'Hodogram(B2_B1 MVAB frame)','B2(nT)','B1(nT)');
hodo('hodogram-b3-b1',1229,83,[-15,15],[-15,15],hodoB3B1,[-15,-10,-5,0,5,10,15],[-15,-10,-5,0,5,10,15],'Hodogram(B3_B1 MVAB frame)','B3(nT)','B1(nT)');
hodo('hodogram-bz-by',673,662,[-15,10],[-11.5,13.45],hodoBzBy,[-15,-10,-5,0,5,10],[-10,-5,0,5,10],'Hodogram(Bz_By FR frame)','Bz(nT)','By(nT)');
hodo('hodogram-bx-by',1229,662,[-10,10],[-9.04,10.84],hodoBxBy,[-10,-5,0,5,10],[-5,0,5,10],'Hodogram(Bx_By FR frame)','Bx(nT)','By(nT)');

// ---------------- WALEN TEST ----------------
(function(){
  const a=axes('walen-test-chart',117,662,454,454,[-79,55],[-78,55]);
  dots(a,walenRed,'#ff0000',6.5,'walen-red');
  dots(a,walenGreen,'#008000',6.5,'walen-green');
  dots(a,walenBlue,'#0000ff',6.5,'walen-blue');
  const fl=mk('line',{x1:a.sx(-79),y1:a.sy(walenIntercept+walenSlope*-79),x2:a.sx(55),y2:a.sy(walenIntercept+walenSlope*55),stroke:'#000','stroke-width':2,'stroke-dasharray':'12,7'},a.plot);
  
  
  const yv=[-60,-40,-20,0,20,40];yticks(a,yv,yv.map(v=>fmt(v)));
  const xv=[-60,-40,-20,0,20,40];xticks(a,xv,xv.map(v=>fmt(v)));
  frame(a);title(a,'WalenTest',13);
  const bx=mk('g',{},a.g);
  
  
  mk('rect',{x:125,y:667,width:145,height:51,fill:'#fff',stroke:'#000','stroke-width':2},bx);
  txt(bx,129,688,'slope = -0.017',{'font-size':16.5});
  const r=txt(bx,129,711,'',{'font-size':16.5});
  const ri=mk('tspan',{'font-style':'italic','font-family':'Liberation Serif, serif'},r);ri.textContent='r';
  const rr=mk('tspan',{},r);rr.textContent=' = -0.037';
  const yl=txt(a.g,0,0,'',{'text-anchor':'middle',transform:'translate(46,889) rotate(-90)'});
  
  const a1=mk('tspan',{},yl);a1.textContent='V';
  const a2=mk('tspan',{'font-size':11,'font-style':'italic','font-family':'Liberation Serif, serif',dy:4});a2.textContent='remaining';yl.appendChild(a2);
  const a3=mk('tspan',{dy:-4},yl);a3.textContent='(km/s)';
  const xl=txt(a.g,344,1167,'',{'text-anchor':'middle'});
  
  const b1=mk('tspan',{},xl);b1.textContent='V';
  const b2=mk('tspan',{'font-size':11,'font-style':'italic',dy:4},xl);b2.textContent='A';
  const b3=mk('tspan',{dy:-4},xl);b3.textContent='(km/s)';
})();

// ---------------- TIME SERIES PANELS ----------------
const TX=116.5,TW=1566.5,TH=189,TD=[0,138];
function tpanel(name,Y,yd){const a=axes(name,TX,Y,TW,TH,TD,yd);return a;}
function zeroLine(a){const l=mk('line',{x1:a.X,x2:a.X+a.W,y1:a.sy(0),y2:a.sy(0),stroke:'#000','stroke-width':1.5,'stroke-dasharray':'9,6'},a.plot);
  
  }

(function(){ // GSE
  const a=tpanel('magnetic-field-gse-chart',1305,[-15,15]);
  zeroLine(a);
  series(a,gseBx,'#ff0000','bx-line');series(a,gseBy,'#008000','by-line');series(a,gseBz,'#0000ff','bz-line');
  const yv=rng(-15,15,5);yticks(a,yv,yv.map(v=>fmt(v)));xticks(a,timeTicks,timeLabels);
  frame(a);title(a,'Magnetic Field (GSE Frame)');ylabel(a,'B(nT)',54);
  legend(a,1606,1313,71,[['Bx','#ff0000'],['By','#008000'],['Bz','#0000ff']]);
})();
(function(){ // FR
  const a=tpanel('magnetic-field-flux-rope-chart',1588,[-15,15]);
  zeroLine(a);
  series(a,frBt,'#000000','b-total-line');series(a,frBx,'#ff0000','bx-prime-line');series(a,frBy,'#008000','by-prime-line');series(a,frBz,'#0000ff','bz-prime-line');
  const yv=rng(-15,15,5);yticks(a,yv,yv.map(v=>fmt(v)));xticks(a,timeTicks,timeLabels);
  frame(a);title(a,'Magnetic Field (Flux Rope Frame)');ylabel(a,'B(nT)',54);
  legend(a,1603,1597,74,[["Bx'",'#ff0000'],["By'",'#008000'],["Bz'",'#0000ff'],['|B|','#000000']]);
})();
function jet(f){const c=v=>Math.round(255*Math.max(0,Math.min(1,v)));
  return 'rgb('+c(1.5-Math.abs(4*f-3))+','+c(1.5-Math.abs(4*f-2))+','+c(1.5-Math.abs(4*f-1))+')';}
(function(){ // PAD
  const a=tpanel('pitch-angle-distribution-chart',1871,[0,180]);
  const cw=3,rh=12;
  padRows.forEach((row,ri)=>{const top=180-ri*rh;
    for(let k=0;k<46;k++){const ch=row[k]||'.';const v=padCodes[ch];if(v===undefined)continue;
      const x0=a.sx(k*cw),x1=a.sx((k+1)*cw),y0=a.sy(top),y1=a.sy(top-rh);
      const c=mk('rect',{x:x0,y:y0,width:x1-x0+0.6,height:y1-y0+0.6,fill:jet((v+31)/5)},a.plot);
      
      
    }});
  yticks(a,[0,60,120,180],['0','60','120','180']);xticks(a,timeTicks,timeLabels);
  frame(a);title(a,'Suprathermal Electrons Pitch Angle Distribution (96.71eV)');ylabel(a,'pitch angle (deg)',54);
  const cb=mk('g',{});
  
  
  const defs=mk('defs',{},cb);const lgd=mk('linearGradient',{id:'jetgrad',x1:0,y1:1,x2:0,y2:0},defs);
  for(let i=0;i<=10;i++)mk('stop',{offset:i/10,'stop-color':jet(i/10)},lgd);
  mk('rect',{x:1692,y:1871,width:8,height:189,fill:'url(#jetgrad)',stroke:'#000','stroke-width':1.5},cb);
  [-31,-30,-29,-28,-27,-26].forEach((e,i)=>{const y=2060-i*189/5;
    mk('line',{x1:1692,x2:1700,y1:y,y2:y,stroke:'#000','stroke-width':1},cb);
    const t=txt(cb,1706,y+7,'10',{'font-size':16.5});
    
    const s=mk('tspan',{'font-size':11,dy:-8},t);s.textContent=fmt(e);});
})();
(function(){ // SW velocity
  const a=tpanel('solar-wind-velocity-chart',2155,[-500,100]);
  series(a,swVx,'#ff0000','vx-line');series(a,swVy,'#008000','vy-line');series(a,swVz,'#0000ff','vz-line');
  const yv=rng(-500,100,100);yticks(a,yv,yv.map(v=>fmt(v)));xticks(a,timeTicks,timeLabels);
  frame(a);title(a,'Solar Wind Velocity (GSE Frame)');ylabel(a,'Vsw(km/s)',36);
  legend(a,1606,2163,71,[['Vx','#ff0000'],['Vy','#008000'],['Vz','#0000ff']]);
})();
(function(){ // Beta
  const a=tpanel('plasma-beta-chart',2439,[0,5]);
  series(a,betaP,'#0000ff','beta-proton-line');series(a,betaTot,'#008000','beta-total-line');
  const yv=rng(0,5,1);yticks(a,yv,yv.map(v=>fmt(v)));xticks(a,timeTicks,timeLabels);
  frame(a);title(a,'Plasma Beta');
  const yl=txt(a.g,0,0,'',{'text-anchor':'middle',transform:'translate(62,2534) rotate(-90)'});
  
  const s1=mk('tspan',{'font-style':'italic','fill':'#777','font-family':'Liberation Serif, serif'},yl);s1.textContent='\u03b2';
  const s2=mk('tspan',{'font-size':10,'fill':'#777',dy:3},yl);s2.textContent='p';
  const s3=mk('tspan',{dy:-3},yl);s3.textContent=' and ';
  const s4=mk('tspan',{'font-style':'italic','fill':'#777','font-family':'Liberation Serif, serif'},yl);s4.textContent='\u03b2';
  legend(a,1607,2447,70,[['\u03b2p','#0000ff'],['\u03b2','#008000']]);
})();
(function(){ // Density
  const a=tpanel('proton-density-chart',2723,[0,30]);
  series(a,npDens,'#0000ff','density-line');
  const yv=rng(0,30,5);yticks(a,yv,yv.map(v=>fmt(v)));xticks(a,timeTicks,timeLabels);
  frame(a);title(a,'Proton Number Density');ylabel(a,'Np(#/cc)',70);
})();
(function(){ // Temperature
  const a=tpanel('proton-temperature-chart',3006,[0,0.5]);
  const aR=axes('te-tp-axis',TX,3006,TW,TH,TD,[0,5]);
  series(a,tpTemp,'#0000ff','tp-line');series(aR,teTp,'#ff0000','te-tp-ratio-line');
  const yv=rng(0,0.5,0.1);yticks(a,yv,yv.map(v=>v.toFixed(1)));xticks(a,timeTicks,timeLabels);
  const rg=mk('g',{},aR.g);
  
  
  [0,1,2,3,4,5].forEach(v=>{const y=aR.sy(v);const t=txt(rg,1690,y+6,String(v),{fill:'#ff0000'});});
  frame(a);title(a,'Proton Temperature and Te/Tp');
  const yl=txt(a.g,0,0,'',{'text-anchor':'middle',transform:'translate(58,3100) rotate(-90)'});
  
  const q1=mk('tspan',{},yl);q1.textContent='Tp(10';
  const q2=mk('tspan',{'font-size':11,dy:-7},yl);q2.textContent='6';
  const q3=mk('tspan',{dy:7},yl);q3.textContent='K)';
  const ry=txt(a.g,0,0,'Te/Tp',{'text-anchor':'middle',fill:'#ff0000','font-style':'italic','font-family':'Liberation Serif, serif',transform:'translate(1730,3100) rotate(-90)'});
  
  legend(a,124,3012,71,[['Tp','#0000ff']]);
  legend(a,1588,3012,89,[['Te/Tp','#ff0000']]);
})();
</script>
</body></html>
